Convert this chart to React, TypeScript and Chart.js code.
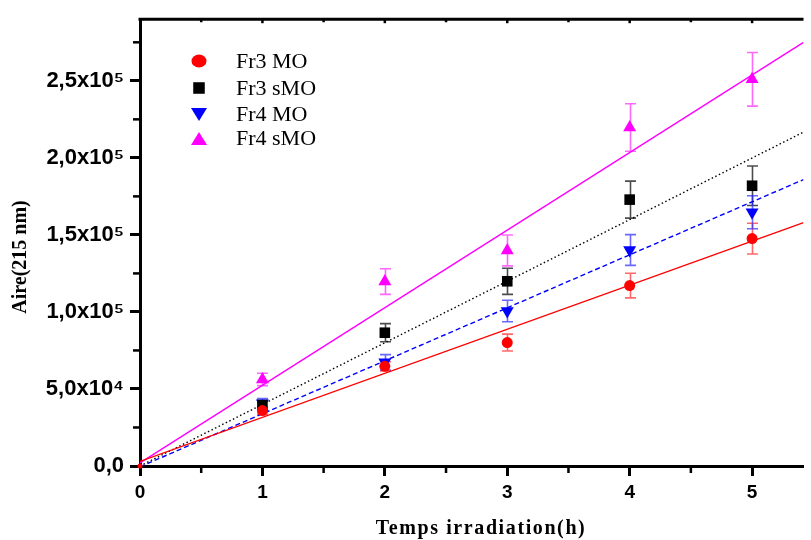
import React, { useEffect, useRef } from 'react';
import { Chart, registerables } from 'chart.js';

Chart.register(...registerables);

// ---- data ----
const times = [0, 1, 2, 3, 4, 5];
const seriesNames = ['Fr3 MO', 'Fr3 sMO', 'Fr4 MO', 'Fr4 sMO'];

const fr3MO = [0, 36000, 64700, 80100, 117100, 147600];
const fr3MOErr = [0, 2500, 3000, 5500, 8000, 10000];
const fr3sMO = [0, 39500, 86500, 119900, 172900, 181900];
const fr3sMOErr = [0, 3000, 5900, 8500, 12000, 12800];
const fr4MO = [0, 40800, 67300, 100600, 140200, 164700];
const fr4MOErr = [0, 3000, 5000, 7000, 10000, 10700];
const fr4sMO = [0, 56200, 119700, 139900, 219700, 251000];
const fr4sMOErr = [0, 4000, 8300, 10000, 15400, 17400];

// linear fits: value at x = fitX[0] and x = fitX[1]
const fitX = [0, 5.42];
const fitFr3MO = [3000, 158000];
const fitFr3sMO = [0, 216700];
const fitFr4MO = [-500, 185900];
const fitFr4sMO = [2000, 275000];

const xTickValues = [0, 1, 2, 3, 4, 5];
const yTickValues = [0, 50000, 100000, 150000, 200000, 250000];
const xMinorTicks = [0.5, 1.5, 2.5, 3.5, 4.5];
const yMinorTicks = [25000, 75000, 125000, 175000, 225000, 275000];

const xTitle = 'Temps irradiation(h)';
const yTitle = 'Aire(215 nm)';

const X_MIN = 0;
const X_MAX = 5.42;
const Y_MIN = 0;
const Y_MAX = 290000;

const series = [
  { name: seriesNames[0], values: fr3MO, errs: fr3MOErr, fit: fitFr3MO, color: '#ff0000', errColor: 'rgba(255,40,40,0.7)', style: 'circle', rot: 0, radius: 5.5, dash: [] as number[] },
  { name: seriesNames[1], values: fr3sMO, errs: fr3sMOErr, fit: fitFr3sMO, color: '#000000', errColor: 'rgba(0,0,0,0.7)', style: 'rect', rot: 0, radius: 7.5, dash: [1.5, 2.5] },
  { name: seriesNames[2], values: fr4MO, errs: fr4MOErr, fit: fitFr4MO, color: '#0000ff', errColor: 'rgba(40,40,255,0.7)', style: 'triangle', rot: 180, radius: 7.5, dash: [5, 3] },
  { name: seriesNames[3], values: fr4sMO, errs: fr4sMOErr, fit: fitFr4sMO, color: '#ff00ff', errColor: 'rgba(255,40,255,0.7)', style: 'triangle', rot: 0, radius: 7.5, dash: [] as number[] },
];

function fmtY(v: number): string {
  if (Math.abs(v) < 1) return '0,0';
  if (v < 100000) return (v / 10000).toFixed(1).replace('.', ',') + 'x10\u2074';
  return (v / 100000).toFixed(1).replace('.', ',') + 'x10\u2075';
}

function drawMarker(ctx: CanvasRenderingContext2D, style: string, rot: number, x: number, y: number, w: number) {
  ctx.beginPath();
  if (style === 'circle') {
    ctx.ellipse(x, y, w / 2, w / 2.3, 0, 0, Math.PI * 2);
  } else if (style === 'rect') {
    ctx.rect(x - w / 2.6, y - w / 2.6, w / 1.3, w / 1.3);
  } else {
    const h = w * 0.8;
    const s = rot === 180 ? -1 : 1;
    ctx.moveTo(x, y - s * h / 2);
    ctx.lineTo(x + w / 2, y + s * h / 2);
    ctx.lineTo(x - w / 2, y + s * h / 2);
    ctx.closePath();
  }
  ctx.fill();
}

const decorPlugin = {
  id: 'decor',
  beforeDatasetsDraw(chart: any) {
    const ctx: CanvasRenderingContext2D = chart.ctx;
    const xs = chart.scales.x;
    const ys = chart.scales.y;
    ctx.save();
    series.forEach((s) => {
      ctx.strokeStyle = s.errColor;
      ctx.lineWidth = 1.6;
      times.forEach((t, j) => {
        const e = s.errs[j];
        if (!e) return;
        const px = Math.round(xs.getPixelForValue(t)) + 0.5;
        const y1 = ys.getPixelForValue(s.values[j] + e);
        const y2 = ys.getPixelForValue(s.values[j] - e);
        ctx.beginPath();
        ctx.moveTo(px, y1);
        ctx.lineTo(px, y2);
        ctx.moveTo(px - 5.5, y1);
        ctx.lineTo(px + 5.5, y1);
        ctx.moveTo(px - 5.5, y2);
        ctx.lineTo(px + 5.5, y2);
        ctx.stroke();
      });
    });
    ctx.restore();
  },
  afterDraw(chart: any) {
    const ctx: CanvasRenderingContext2D = chart.ctx;
    const xs = chart.scales.x;
    const ys = chart.scales.y;
    const area = chart.chartArea;
    ctx.save();
    // top spine
    ctx.strokeStyle = '#000';
    ctx.lineWidth = 3;
    ctx.beginPath();
    ctx.moveTo(area.left - 1.5, area.top);
    ctx.lineTo(area.right, area.top);
    ctx.stroke();
    // minor ticks
    ctx.lineWidth = 2.5;
    xMinorTicks.forEach((v) => {
      const px = xs.getPixelForValue(v);
      ctx.beginPath();
      ctx.moveTo(px, area.bottom);
      ctx.lineTo(px, area.bottom + 7);
      ctx.moveTo(px, area.top);
      ctx.lineTo(px, area.top + 3);
      ctx.stroke();
    });
    xTickValues.forEach((v) => {
      if (v === X_MIN) return;
      const px = xs.getPixelForValue(v);
      ctx.beginPath();
      ctx.moveTo(px, area.top);
      ctx.lineTo(px, area.top + 4);
      ctx.stroke();
    });
    yMinorTicks.forEach((v) => {
      const py = ys.getPixelForValue(v);
      ctx.beginPath();
      ctx.moveTo(area.left, py);
      ctx.lineTo(area.left - 7, py);
      ctx.stroke();
    });
    // legend
    const lx = 199;
    const rows = [61, 88, 114.5, 138.5];
    ctx.font = '22px "Liberation Serif", "Times New Roman", serif';
    ctx.textBaseline = 'middle';
    ctx.textAlign = 'left';
    series.forEach((s, i) => {
      ctx.fillStyle = s.color;
      drawMarker(ctx, s.style, s.rot, lx, rows[i], s.style === 'circle' ? 15 : s.style === 'rect' ? 15 : 16);
      ctx.fillStyle = '#000';
      ctx.fillText(s.name, 236, rows[i] + 1);
    });
    // axis titles
    ctx.fillStyle = '#000';
    ctx.font = 'bold 20px "Liberation Serif", "Times New Roman", serif';
    ctx.textAlign = 'center';
    ctx.textBaseline = 'middle';
    (ctx as any).letterSpacing = '1.6px';
    ctx.fillText(xTitle, 481, 529);
    (ctx as any).letterSpacing = '0px';
    ctx.translate(21, 257);
    ctx.rotate(-Math.PI / 2);
    ctx.fillText(yTitle, 0, 0);
    ctx.restore();
  },
};

export default function App() {
  const ref = useRef<HTMLCanvasElement>(null);

  useEffect(() => {
    if (!ref.current) return;
    const datasets: any[] = [];
    series.forEach((s) => {
      datasets.push({
        label: s.name,
        type: 'line',
        data: times.map((t, j) => ({ x: t, y: s.values[j] })),
        showLine: false,
        pointStyle: s.style,
        rotation: s.rot,
        pointRadius: times.map((t) => (t === 0 ? 2.5 : s.radius)),
        pointBackgroundColor: s.color,
        pointBorderWidth: 0,
        borderColor: s.color,
        clip: false,
        order: 1,
      });
      datasets.push({
        label: s.name + ' fit',
        type: 'line',
        data: fitX.map((x, j) => ({ x, y: s.fit[j] })),
        borderColor: s.color,
        borderWidth: 1.4,
        borderDash: s.dash,
        pointRadius: 0,
        fill: false,
        order: 2,
      });
    });

    const chart = new Chart(ref.current, {
      type: 'line',
      data: { datasets },
      options: {
        responsive: false,
        animation: false,
        devicePixelRatio: 1,
        layout: { padding: { top: 14.5, right: 0, bottom: 0, left: 0 } },
        plugins: { legend: { display: false }, tooltip: { enabled: false } },
        scales: {
          x: {
            type: 'linear',
            min: X_MIN,
            max: X_MAX,
            afterBuildTicks: (scale: any) => { scale.ticks = xTickValues.map((v) => ({ value: v })); },
            afterFit: (scale: any) => { scale.height = 540 - 466; },
            ticks: {
              color: '#000',
              padding: 5,
              autoSkip: false,
              font: { family: '"Liberation Sans", Arial, sans-serif', size: 19, weight: 'bold' },
            },
            grid: { drawOnChartArea: false, drawTicks: true, tickLength: 10, tickWidth: 3, tickColor: '#000' },
            border: { display: true, width: 3, color: '#000' },
          },
          y: {
            type: 'linear',
            min: Y_MIN,
            max: Y_MAX,
            afterBuildTicks: (scale: any) => { scale.ticks = yTickValues.map((v) => ({ value: v })); },
            afterFit: (scale: any) => { scale.width = 140; },
            ticks: {
              color: '#000',
              padding: 6,
              autoSkip: false,
              font: { family: '"Liberation Sans", Arial, sans-serif', size: 22, weight: 'bold' },
              callback: (v: any) => fmtY(Number(v)),
            },
            grid: { drawOnChartArea: false, drawTicks: true, tickLength: 10, tickWidth: 3, tickColor: '#000' },
            border: { display: true, width: 3, color: '#000' },
          },
        },
      } as any,
      plugins: [decorPlugin],
    });
    return () => chart.destroy();
  }, []);

  return (
    <div style={{ position: 'fixed', left: 0, top: 0, width: 811, height: 540, background: '#fff' }}>
      <canvas ref={ref} width={811} height={540} style={{ width: 811, height: 540, display: 'block' }} />
    </div>
  );
}
